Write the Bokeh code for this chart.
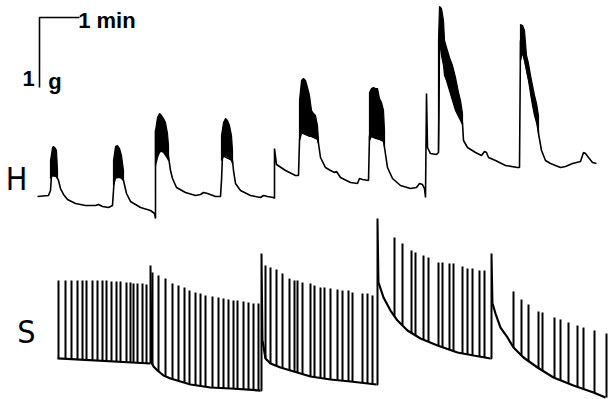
import numpy as np
from bokeh.plotting import figure
from bokeh.models import Range1d
from bokeh.embed import file_html
from bokeh.resources import INLINE
from bokeh.core.properties import value

# ---------------- H channel: time (s) vs tension (g) ----------------
h_t = [3, 19.5, 22.5, 24, 31.5, 34.5, 37.5, 42, 48, 60, 75, 90, 94.5, 100.5, 109.5, 115.5,
       117, 118.5, 130.5, 132, 136.5, 142.5, 157.5, 172.5, 178.5, 180,
       180, 181.5, 198, 199.5, 202.5, 205.5, 211.5, 225, 240, 247.5, 252, 258, 270, 277.5,
       279, 280.5, 295.5, 297, 300, 307.5, 322.5, 337.5, 342, 348, 357, 358.5,
       358.5, 361.5, 375, 390, 394.5,
       396, 397.5, 423, 424.5, 427.5, 435, 442.5, 448.5, 451.5, 457.5, 472.5, 483, 486, 490.5, 499.5,
       501, 522, 523.5, 528, 535.5, 547.5, 562.5, 571.5, 576, 580.5, 583.5, 585,
       586.5, 588, 592.5, 601.5, 604.5,
       606, 639, 640.5, 642, 648, 660, 669, 673.5, 676.5, 679.5, 690, 705, 723, 726,
       727.5, 753, 754.5, 759, 765, 772.5, 787.5, 795, 805.5, 817.5, 822, 825, 829.5, 835.5, 841.5]
h_g = [0.20, 0.214, 0.286, 0.5, 0.486, 0.429, 0.314, 0.229, 0.157, 0.1, 0.071, 0.071, 0.086, 0.057, 0.043, 0.071,
       0.286, 0.5, 0.486, 0.429, 0.243, 0.129, 0.043, 0.0, -0.043, -0.114,
       1.143, 0.857, 0.829, 0.771, 0.571, 0.457, 0.329, 0.257, 0.214, 0.229, 0.257, 0.243, 0.2, 0.2,
       0.429, 0.786, 0.714, 0.571, 0.386, 0.286, 0.214, 0.186, 0.214, 0.2, 0.186, 0.171,
       0.886, 0.657, 0.571, 0.5, 0.5,
       1.0, 1.114, 1.029, 0.957, 0.757, 0.614, 0.571, 0.543, 0.557, 0.471, 0.4, 0.386, 0.457, 0.443, 0.429,
       1.071, 1.0, 0.9, 0.614, 0.457, 0.357, 0.314, 0.329, 0.386, 0.371, 0.314, 0.186,
       1.671, 0.9, 0.814, 0.8, 0.829,
       2.429, 1.314, 1.243, 1.0, 0.9, 0.829, 0.786, 0.843, 0.829, 0.757, 0.714, 0.643, 0.614, 0.614,
       2.429, 1.286, 1.1, 0.857, 0.714, 0.671, 0.614, 0.629, 0.671, 0.7, 0.829, 0.814, 0.757, 0.686, 0.671]

# burst envelopes (time s, upper / lower tension g)
burst_t = [
    [22.5, 25.5, 27, 30, 31.5, 33],
    [117, 120, 123, 126, 129, 132],
    [180, 183, 186, 189, 192, 195, 198, 199.5],
    [279, 282, 285, 288, 291, 294, 295.5],
    [396, 399, 402, 405, 408, 411, 414, 417, 420, 423, 424.5],
    [501, 504, 507, 510, 513, 516, 519, 522, 523.5],
    [604.5, 606, 609, 612, 613.5, 616.5, 621, 625.5, 630, 634.5, 637.5, 640.5],
    [727.5, 730.5, 733.5, 736.5, 739.5, 742.5, 745.5, 748.5, 751.5, 754.5],
]
burst_top = [
    [0.714, 0.9, 0.914, 0.886, 0.857, 0.571],
    [0.714, 0.914, 0.929, 0.886, 0.786, 0.571],
    [1.143, 1.329, 1.386, 1.357, 1.314, 1.257, 1.1, 0.929],
    [1.071, 1.257, 1.314, 1.286, 1.214, 1.071, 0.857],
    [1.571, 1.857, 1.886, 1.857, 1.757, 1.643, 1.429, 1.386, 1.357, 1.214, 1.0],
    [1.686, 1.743, 1.757, 1.743, 1.743, 1.6, 1.543, 1.429, 1.143],
    [2.429, 2.914, 2.886, 2.714, 2.429, 2.329, 2.186, 2.071, 1.9, 1.686, 1.571, 1.386],
    [2.657, 2.643, 2.571, 2.214, 2.1, 1.929, 1.786, 1.643, 1.529, 1.357],
]
burst_bot = [
    [0.457, 0.5, 0.5, 0.5, 0.486, 0.457],
    [0.357, 0.457, 0.471, 0.471, 0.457, 0.429],
    [0.643, 0.757, 0.829, 0.857, 0.829, 0.786, 0.743, 0.714],
    [0.714, 0.771, 0.786, 0.771, 0.757, 0.714, 0.671],
    [1.0, 1.1, 1.1, 1.086, 1.071, 1.057, 1.057, 1.043, 1.029, 1.014, 0.957],
    [1.0, 1.057, 1.043, 1.029, 1.021, 1.014, 1.0, 0.986, 0.914],
    [0.857, 2.429, 2.214, 2.071, 1.929, 1.857, 1.714, 1.571, 1.429, 1.343, 1.286, 1.229],
    [2.143, 2.257, 2.143, 2.0, 1.857, 1.671, 1.5, 1.357, 1.257, 1.1],
]

# ---------------- S channel: resting tension segments (s, g) ----------------
s_seg_t = [
    [33, 172.5],
    [174, 177, 183, 192, 202.5, 217.5, 232.5, 262.5, 292.5, 337.5],
    [340.5, 345, 352.5, 367.5, 382.5, 397.5, 412.5, 442.5, 472.5, 511.5],
    [514.5, 522, 532.5, 543, 558, 577.5, 603, 633, 657, 682.5],
    [685.5, 690, 697.5, 708, 717, 732, 753, 777, 807, 837, 855],
]
s_seg_g = [
    [0.529, 0.457],
    [0.471, 0.414, 0.357, 0.286, 0.243, 0.2, 0.157, 0.114, 0.1, 0.071],
    [0.786, 0.529, 0.457, 0.4, 0.357, 0.314, 0.271, 0.229, 0.2, 0.157],
    [1.614, 1.4, 1.214, 1.071, 0.929, 0.814, 0.714, 0.614, 0.571, 0.529],
    [1.314, 1.171, 0.971, 0.829, 0.686, 0.543, 0.4, 0.257, 0.143, 0.043, -0.029],
]
# stimulus changes (time s, peak g)
s_jump_t = [172.5, 339, 513, 684]
s_jump_top = [1.857, 2.029, 2.529, 2.029]

# twitches: time (s) and peak tension (g) per segment
s_spk_t = [
    [34.5, 45, 54, 63, 70.5, 76.5, 85.5, 93, 100.5, 106.5, 114, 121.5, 127.5, 136.5, 142.5, 147, 153, 160.5, 166.5],
    [175.5, 184.5, 195, 205.5, 214.5, 223.5, 231, 240, 247.5, 255, 265.5, 274.5, 282, 289.5, 297, 303, 312, 319.5, 327, 334.5],
    [345, 352.5, 361.5, 370.5, 381, 388.5, 393, 400.5, 412.5, 418.5, 427.5, 433.5, 442.5, 453, 460.5, 469.5, 475.5, 490.5, 498, 505.5],
    [538.5, 550.5, 564, 570, 582, 589.5, 604.5, 610.5, 621, 627, 640.5, 648, 655.5, 666, 673.5],
    [717, 729, 739.5, 754.5, 760.5, 778.5, 787.5, 799.5, 813, 822, 838.5, 856.5],
]
s_spk_top = [
    [1.643, 1.643, 1.643, 1.643, 1.643, 1.643, 1.643, 1.643, 1.643, 1.643, 1.629, 1.629, 1.629, 1.614, 1.614, 1.6, 1.6, 1.6, 1.586],
    [1.757, 1.714, 1.671, 1.6, 1.571, 1.543, 1.5, 1.471, 1.457, 1.429, 1.414, 1.4, 1.386, 1.371, 1.357, 1.357, 1.343, 1.329, 1.314, 1.314],
    [1.857, 1.829, 1.8, 1.743, 1.671, 1.643, 1.643, 1.614, 1.6, 1.571, 1.543, 1.543, 1.529, 1.514, 1.5, 1.5, 1.471, 1.457, 1.457, 1.429],
    [2.257, 2.171, 2.071, 2.043, 2.0, 1.971, 1.9, 1.9, 1.886, 1.886, 1.843, 1.814, 1.814, 1.786, 1.786],
    [1.486, 1.371, 1.3, 1.2, 1.186, 1.114, 1.086, 1.043, 1.0, 0.971, 0.929, 0.886],
]

channel_labels = ["H", "S"]
scale_labels = ["1 min", "1", "g"]

# ---------------- layout constants ----------------
FIG_W, FIG_H = 608, 399
S_PER_PX = 1.5          # chart speed: 40 px per minute
G_PER_PX = 1 / 70.0     # 70 px per gram
X_START = -35 * S_PER_PX
Y_END = 210 * G_PER_PX
S_OFFSET = -185 * G_PER_PX   # vertical offset of the S channel

p = figure(width=FIG_W, height=FIG_H, output_backend="svg", toolbar_location=None,
           x_range=Range1d(X_START, X_START + FIG_W * S_PER_PX),
           y_range=Range1d(Y_END - FIG_H * G_PER_PX, Y_END),
           min_border=0, outline_line_color=None, background_fill_color="white",
           border_fill_color="white")
p.xaxis.visible = False
p.yaxis.visible = False
p.xgrid.visible = False
p.ygrid.visible = False

# H trace
p.line(h_t, h_g, line_color="black", line_width=1.6)
xs, ys = [], []
for t, top, bot in zip(burst_t, burst_top, burst_bot):
    xs.append(list(t) + list(t[::-1]))
    ys.append(list(top) + list(bot[::-1]))
p.patches(xs, ys, fill_color="black", line_color="black", line_width=1.2)

# S trace
for t, g in zip(s_seg_t, s_seg_g):
    p.line(t, list(np.array(g) + S_OFFSET), line_color="black", line_width=2.2)
jx, jy = [], []
for i, (jt, top) in enumerate(zip(s_jump_t, s_jump_top)):
    prev_t, prev_g = s_seg_t[i][-1], s_seg_g[i][-1]
    nxt_t, nxt_g = s_seg_t[i + 1][0], s_seg_g[i + 1][0]
    jx.append([prev_t, jt, jt, nxt_t])
    jy.append([prev_g + S_OFFSET, prev_g + S_OFFSET, top + S_OFFSET, nxt_g + S_OFFSET])
p.multi_line(jx, jy, line_color="black", line_width=2)

x0, y0, x1, y1 = [], [], [], []
for seg_t, seg_g, spk_t, spk_top in zip(s_seg_t, s_seg_g, s_spk_t, s_spk_top):
    base = np.interp(spk_t, seg_t, seg_g)
    x0 += list(spk_t)
    x1 += list(spk_t)
    y0 += list(base + S_OFFSET)
    y1 += list(np.array(spk_top) + S_OFFSET)
p.segment(x0, y0, x1, y1, line_color="black", line_width=2)

# scale bar: 1 min, 1 g
SB_T, SB_G = 6, 1.757
p.line([SB_T + 60, SB_T, SB_T], [SB_G + 1, SB_G + 1, SB_G], line_color="black", line_width=1.6)

bold = dict(text_font=value("Liberation Sans"), text_font_style="bold",
            text_font_size="22px", text_color="black", text_baseline="middle")
p.text(x=[SB_T + 58], y=[SB_G + 0.957], text=[scale_labels[0]], text_align="left", **bold)
p.text(x=[SB_T - 7], y=[SB_G + 0.13], text=[scale_labels[1]], text_align="right", **bold)
p.text(x=[SB_T + 13], y=[SB_G + 0.09], text=[scale_labels[2]], text_align="left", **bold)

lab = dict(text_font=value("DejaVu Sans Condensed"), text_font_size="32px",
           text_color="black", text_baseline="middle", text_align="center")
p.text(x=[-28.5], y=[0.457], text=[channel_labels[0]], **lab)
p.text(x=[-13.5], y=[0.914 + S_OFFSET], text=[channel_labels[1]], **lab)

open("out.html", "w").write(file_html(p, INLINE))
